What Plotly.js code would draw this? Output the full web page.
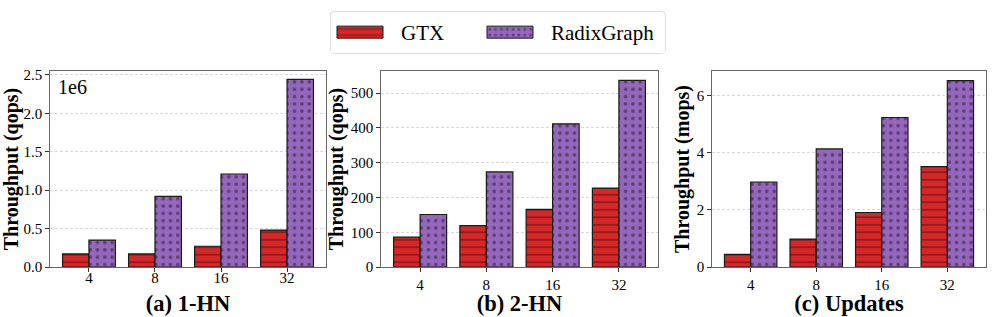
<!DOCTYPE html>
<html><head><meta charset="utf-8">
<script src="https://cdn.plot.ly/plotly-3.0.1.min.js"></script>
<style>html,body{margin:0;padding:0;background:#fff}#c{width:996px;height:317px}</style>
</head><body><div id="c"></div>
<script>
// Data
const threads = ["4", "8", "16", "32"];
const seriesNames = ["GTX", "RadixGraph"];
// (a) 1-HN, throughput in units of 1e6 qops
const hn1_gtx = [0.17, 0.17, 0.27, 0.48];
const hn1_radix = [0.35, 0.92, 1.21, 2.44];
// (b) 2-HN, qops
const hn2_gtx = [86, 119, 166, 227];
const hn2_radix = [151, 274, 412, 537];
// (c) Updates, mops
const upd_gtx = [0.44, 0.98, 1.91, 3.52];
const upd_radix = [2.98, 4.14, 5.24, 6.53];
const panelTitles = ["(a) 1-HN", "(b) 2-HN", "(c) Updates"];
const yTitles = ["Throughput (qops)", "Throughput (qops)", "Throughput (mops)"];
const offsetText = "1e6";

const W = 996, H = 317;
const fx = v => v / W, fy = v => 1 - v / H;
const FONT = "Liberation Serif, Times New Roman, serif";
const RED = "#d62728", PURPLE = "#9467bd";

const gtxMarker = {color: RED, line: {color: "#1a1a1a", width: 1.2},
  pattern: {shape: "-", fgcolor: "#1a0303", size: 7.5, solidity: 0.17, fillmode: "overlay"}};
const radixMarker = {color: PURPLE, line: {color: "#1a1a1a", width: 1.2},
  pattern: {shape: ".", fgcolor: "#241530", size: 7.3, solidity: 0.2, fillmode: "overlay"}};

const panels = [[hn1_gtx, hn1_radix], [hn2_gtx, hn2_radix], [upd_gtx, upd_radix]];
const traces = [];
panels.forEach((p, i) => {
  const xa = i === 0 ? "x" : "x" + (i + 1), ya = i === 0 ? "y" : "y" + (i + 1);
  traces.push({type: "bar", x: threads, y: p[0], name: seriesNames[0], xaxis: xa, yaxis: ya,
    marker: gtxMarker, showlegend: i === 0, legendgroup: "g", hoverinfo: "skip"});
  traces.push({type: "bar", x: threads, y: p[1], name: seriesNames[1], xaxis: xa, yaxis: ya,
    marker: radixMarker, showlegend: i === 0, legendgroup: "r", hoverinfo: "skip"});
});

const xDomains = [[50, 326], [381, 658], [712, 986]];
const yRanges = [[0, 2.55], [0, 564], [0, 6.87]];
const yTicks = [[0, 0.5, 1, 1.5, 2, 2.5], [0, 100, 200, 300, 400, 500], [0, 2, 4, 6]];
const yFmt = [".1f", "d", "d"];

const layout = {
  width: W, height: H, margin: {l: 0, r: 0, t: 0, b: 0},
  paper_bgcolor: "#fff", plot_bgcolor: "#fff",
  font: {family: FONT, color: "#000", size: 15},
  barmode: "group", bargap: 0.2, bargroupgap: 0,
  showlegend: true,
  legend: {orientation: "h", x: fx(330), xanchor: "left", y: fy(11), yanchor: "top",
    bordercolor: "#e0e0e0", borderwidth: 1, font: {family: FONT, size: 21}, itemwidth: 60,
    entrywidth: 75, traceorder: "normal"},
  annotations: [{xref: "x domain", yref: "y domain", x: 0.02, y: 0.985, xanchor: "left", yanchor: "top",
    text: offsetText, showarrow: false, font: {family: FONT, size: 20}}]
};
for (let i = 0; i < 3; i++) {
  const s = i === 0 ? "" : String(i + 1);
  layout["xaxis" + s] = {domain: [fx(xDomains[i][0]), fx(xDomains[i][1])], anchor: "y" + s,
    type: "category", range: [-0.59, 3.59], showline: true, mirror: true, linecolor: "#666", linewidth: 1.2,
    ticks: "outside", ticklen: 3.5, tickcolor: "#333", tickfont: {family: FONT, size: 15},
    showgrid: false, zeroline: false, automargin: false,
    title: {text: "<b>" + panelTitles[i] + "</b>", font: {family: FONT, size: 22.5}, standoff: 0}};
  layout["yaxis" + s] = {domain: [fy(267), fy(71)], anchor: "x" + s, range: yRanges[i],
    showline: true, mirror: true, linecolor: "#666", linewidth: 1.2,
    ticks: "outside", ticklen: 3.5, tickcolor: "#333", tickfont: {family: FONT, size: 15},
    tickvals: yTicks[i], tickformat: yFmt[i],
    showgrid: true, gridcolor: "#cfcfcf", griddash: "3px,2px", gridwidth: 0.8, zeroline: false, automargin: false,
    title: {text: "<b>" + yTitles[i] + "</b>", font: {family: FONT, size: 20}, standoff: 1}};
}

function nudge(sel, dy) {
  document.querySelectorAll(sel).forEach(el => {
    const t = el.getAttribute("transform") || "";
    el.setAttribute("transform", "translate(0," + dy + ") " + t);
  });
}

Plotly.newPlot("c", traces, layout, {displayModeBar: false, staticPlot: true}).then(() => {
  document.querySelectorAll("g.legendpoints path").forEach(p => {
    const d = p.getAttribute("d") || "";
    if (d.indexOf("M6,6H-6V-6H6Z") === 0) {
      p.setAttribute("d", "M17,6H-29V-6H17Z");
      p.style.strokeWidth = "1px";
    }
  });
  // widen the legend frame so the last entry is not clipped
  const leg = document.querySelector("g.legend");
  if (leg) {
    const bg = leg.querySelector("rect.bg");
    if (bg) { bg.setAttribute("width", 335); bg.setAttribute("rx", 4); bg.setAttribute("ry", 4); }
    leg.querySelectorAll("[clip-path]").forEach(el => el.removeAttribute("clip-path"));
  }
  // nudge x tick labels and x titles closer to the axis
  nudge("g.xtick text", -7);
  nudge("g.g-xtitle text, g.g-x2title text, g.g-x3title text", -1);
});
</script>
</body></html>
